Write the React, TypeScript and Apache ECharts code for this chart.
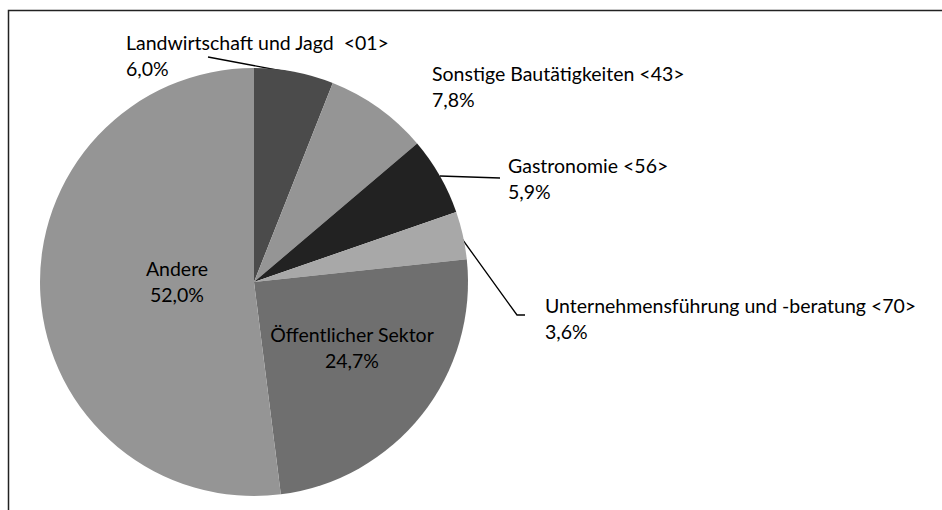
import React, { useEffect, useRef } from "react";
import * as echarts from "echarts";

const CATEGORIES = [
  "Landwirtschaft und Jagd  <01>",
  "Sonstige Bautätigkeiten <43>",
  "Gastronomie <56>",
  "Unternehmensführung und -beratung <70>",
  "Öffentlicher Sektor",
  "Andere",
];
const VALUES = [6.0, 7.8, 5.9, 3.6, 24.7, 52.0];
const COLORS = ["#4b4b4b", "#959595", "#222222", "#a8a8a8", "#6f6f6f", "#959595"];

// label placement (layout only)
const LABEL_LAYOUT: any[] = [
  { x: 126, y: 29, align: "left", line: [[293, 73], [208, 57]] },
  { x: 432, y: 60, align: "left", line: null },
  { x: 508, y: 152, align: "left", line: [[440, 176], [500, 178]] },
  { x: 545, y: 292, align: "left", line: [[460, 236], [517, 315], [525, 315]] },
  { x: 352, y: 321, align: "center", line: null },
  { x: 177, y: 255, align: "center", line: null },
];

export default function App() {
  const ref = useRef<HTMLDivElement>(null);
  useEffect(() => {
    if (!ref.current) return;
    const chart = echarts.init(ref.current, undefined, { renderer: "svg" });
    const fmt = (v: number) => v.toFixed(1).replace(".", ",") + "%";
    chart.setOption({
      animation: false,
      backgroundColor: "#ffffff",
      graphic: [
        {
          type: "polyline",
          shape: { points: [[8.5, 520], [8.5, 10.5], [950, 10.5]] },
          style: { stroke: "#222222", lineWidth: 1.5, fill: null },
          silent: true,
        },
      ],
      series: [
        {
          type: "pie",
          center: [254, 282],
          radius: 214,
          startAngle: 90,
          clockwise: true,
          avoidLabelOverlap: false,
          itemStyle: { borderWidth: 0 },
          label: {
            show: true,
            position: "outside",
            color: "#000000",
            fontFamily: "Lato",
            fontSize: 19.5,
            lineHeight: 26,
            formatter: (p: any) => `${p.name}\n${fmt(VALUES[p.dataIndex])}`,
          },
          labelLine: {
            show: true,
            lineStyle: { color: "#000000", width: 1.3 },
          },
          labelLayout: (p: any) => {
            const l = LABEL_LAYOUT[p.dataIndex];
            const o: any = { x: l.x, y: l.y, align: l.align, verticalAlign: "top" };
            if (l.line) o.labelLinePoints = l.line;
            return o;
          },
          data: CATEGORIES.map((name, i) => {
            const inside = i >= 4;
            const noLine = LABEL_LAYOUT[i].line === null;
            return {
              name,
              value: VALUES[i],
              itemStyle: { color: COLORS[i] },
              label: inside ? { position: "inside", align: "center" } : { align: "left" },
              labelLine: { show: !noLine },
            };
          }),
        },
      ],
    });
    return () => chart.dispose();
  }, []);
  return (
    <div
      ref={ref}
      style={{ position: "fixed", left: 0, top: 0, width: 942, height: 510 }}
    />
  );
}
